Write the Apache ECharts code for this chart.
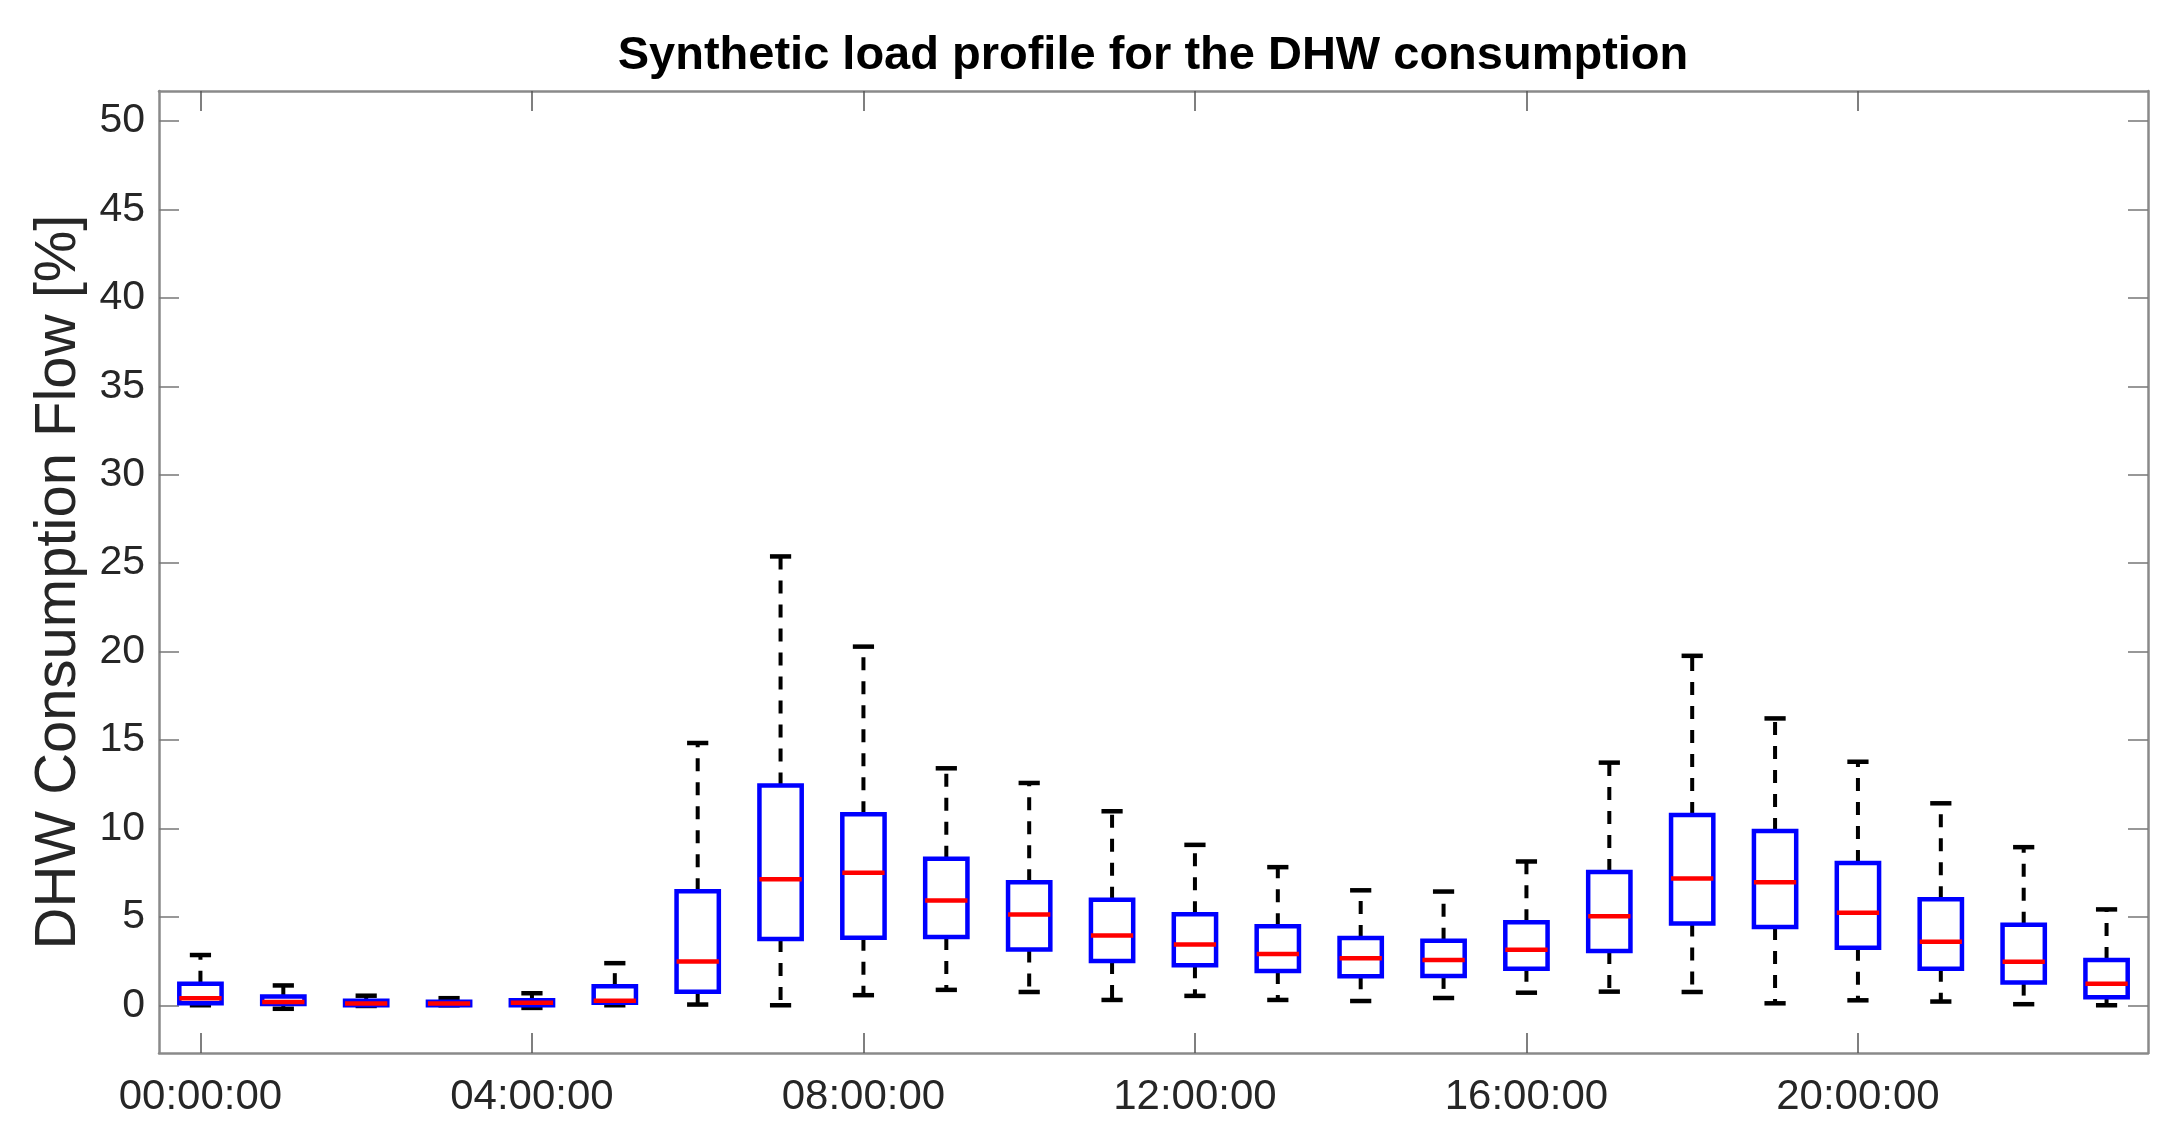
<!DOCTYPE html>
<html>
<head>
<meta charset="utf-8">
<script src="https://cdn.jsdelivr.net/npm/echarts@6/dist/echarts.min.js"></script>
<style>
  html, body { margin: 0; padding: 0; background: #fff; }
  #chart { width: 2180px; height: 1142px; }
</style>
</head>
<body>
<div id="chart"></div>
<script>
// Hour categories (tick labels)
const hours = ["00:00:00","01:00:00","02:00:00","03:00:00","04:00:00","05:00:00",
  "06:00:00","07:00:00","08:00:00","09:00:00","10:00:00","11:00:00",
  "12:00:00","13:00:00","14:00:00","15:00:00","16:00:00","17:00:00",
  "18:00:00","19:00:00","20:00:00","21:00:00","22:00:00","23:00:00"];

// Box plot statistics, DHW consumption flow [%]
const whiskerLow  = [0, -0.2, -0.04, 0, -0.15, 0, 0.04, 0, 0.57, 0.87, 0.75, 0.3,
  0.53, 0.3, 0.24, 0.41, 0.71, 0.77, 0.75, 0.11, 0.28, 0.21, 0.06, 0];
const quartile1   = [0.11, 0.07, 0, 0, 0, 0.14, 0.76, 3.74, 3.82, 3.86, 3.15, 2.5,
  2.26, 1.94, 1.64, 1.66, 2.07, 3.07, 4.63, 4.42, 3.25, 2.07, 1.28, 0.45];
const medians     = [0.4, 0.18, 0.1, 0.1, 0.14, 0.25, 2.48, 7.13, 7.5, 5.92, 5.13, 3.94,
  3.43, 2.9, 2.66, 2.56, 3.14, 5.04, 7.17, 6.96, 5.23, 3.59, 2.46, 1.22];
const quartile3   = [1.22, 0.5, 0.25, 0.2, 0.29, 1.08, 6.44, 12.42, 10.8, 8.29, 6.96, 5.97,
  5.15, 4.47, 3.81, 3.65, 4.7, 7.53, 10.76, 9.86, 8.05, 6.0, 4.55, 2.56];
const whiskerHigh = [2.84, 1.12, 0.54, 0.4, 0.68, 2.38, 14.83, 25.38, 20.28, 13.4, 12.57, 10.97,
  9.07, 7.81, 6.5, 6.43, 8.13, 13.72, 19.76, 16.22, 13.77, 11.42, 8.94, 5.42];

const yTicks = [0, 5, 10, 15, 20, 25, 30, 35, 40, 45, 50];

const boxData = hours.map((h, i) =>
  [i, whiskerLow[i], quartile1[i], medians[i], quartile3[i], whiskerHigh[i]]);

const FONT = "'Liberation Sans', Arial, Helvetica, sans-serif";
const AXIS_COLOR = '#8a8a8a';
const TEXT_COLOR = '#262626';

function renderBox(params, api) {
  const i = api.value(0);
  const x = api.coord([i, 0])[0];
  const band = api.size([1, 0])[0];
  const bw = band * 0.255;
  const cw = band * 0.128;
  const yL = api.coord([i, api.value(1)])[1];
  const yQ1 = api.coord([i, api.value(2)])[1];
  const yM = api.coord([i, api.value(3)])[1];
  const yQ3 = api.coord([i, api.value(4)])[1];
  const yH = api.coord([i, api.value(5)])[1];
  const dash = { stroke: '#000', lineWidth: 4, lineDash: [13, 11], fill: null };
  const cap = { stroke: '#000', lineWidth: 4.5, fill: null };
  return {
    type: 'group',
    children: [
      { type: 'line', shape: { x1: x, y1: yQ3, x2: x, y2: yH }, style: dash },
      { type: 'line', shape: { x1: x, y1: yQ1, x2: x, y2: yL }, style: dash },
      { type: 'line', shape: { x1: x - cw, y1: yH, x2: x + cw, y2: yH }, style: cap },
      { type: 'line', shape: { x1: x - cw, y1: yL, x2: x + cw, y2: yL }, style: cap },
      { type: 'rect', shape: { x: x - bw, y: yQ3, width: 2 * bw, height: yQ1 - yQ3 },
        style: { fill: 'none', stroke: '#0000ff', lineWidth: 4.5 } },
      { type: 'line', shape: { x1: x - bw, y1: yM, x2: x + bw, y2: yM },
        style: { stroke: '#ff0000', lineWidth: 4.5 } }
    ]
  };
}

const chart = echarts.init(document.getElementById('chart'), null, { renderer: 'canvas' });

const catAxisBase = {
  type: 'category',
  data: hours,
  boundaryGap: true,
  axisLine: { show: true, onZero: false, lineStyle: { color: AXIS_COLOR, width: 2.5 } },
  axisTick: { show: true, inside: true, length: 20, interval: 3, alignWithLabel: true,
    lineStyle: { color: '#555', width: 1.5 } },
  splitLine: { show: false }
};

const valAxisBase = {
  type: 'value',
  min: -2.7,
  max: 51.7,
  axisLine: { show: true, onZero: false, lineStyle: { color: AXIS_COLOR, width: 2.5 } },
  axisTick: { show: true, inside: true, length: 20, customValues: yTicks,
    lineStyle: { color: '#777', width: 1.5 } },
  splitLine: { show: false }
};

chart.setOption({
  backgroundColor: '#ffffff',
  animation: false,
  title: {
    text: 'Synthetic load profile for the DHW consumption',
    left: 1148,
    textAlign: 'center',
    top: 28,
    textStyle: { fontFamily: FONT, fontSize: 47, fontWeight: 'bold', color: '#000' }
  },
  grid: { left: 159, right: 32, top: 91, bottom: 89, containLabel: false, outerBoundsMode: 'none' },
  xAxis: [
    Object.assign({}, catAxisBase, {
      position: 'bottom',
      axisLabel: { show: true, interval: 3, margin: 23, fontFamily: FONT, fontSize: 42, color: TEXT_COLOR }
    }),
    Object.assign({}, catAxisBase, {
      position: 'top',
      axisLabel: { show: false }
    })
  ],
  yAxis: [
    Object.assign({}, valAxisBase, {
      position: 'left',
      name: 'DHW Consumption Flow [%]',
      nameLocation: 'middle',
      nameGap: 70,
      nameTextStyle: { fontFamily: FONT, fontSize: 58, color: TEXT_COLOR, padding: [0, 20, 0, 0] },
      axisLabel: { show: true, customValues: yTicks, margin: 14, fontFamily: FONT, fontSize: 41, color: TEXT_COLOR }
    }),
    Object.assign({}, valAxisBase, {
      position: 'right',
      axisLabel: { show: false }
    })
  ],
  series: [{
    type: 'custom',
    name: 'DHW',
    xAxisIndex: 0,
    yAxisIndex: 0,
    renderItem: renderBox,
    encode: { x: 0, y: [1, 2, 3, 4, 5] },
    data: boxData,
    clip: false
  }]
});
</script>
</body>
</html>
